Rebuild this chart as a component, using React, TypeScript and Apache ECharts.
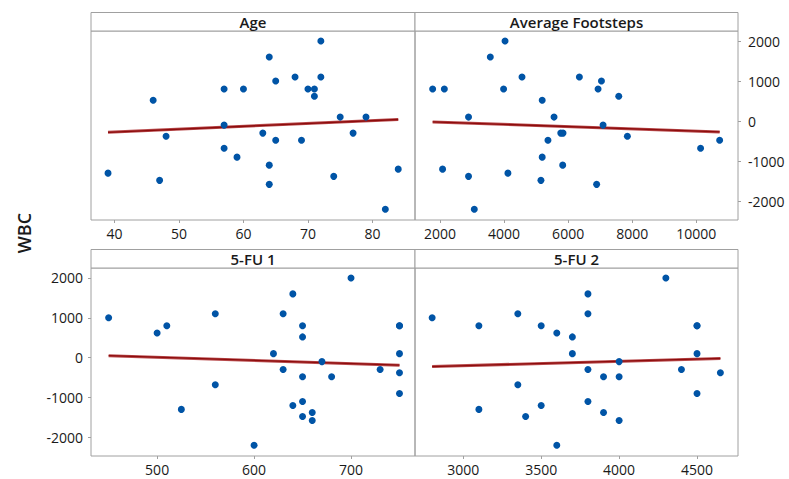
import React, { useEffect, useRef } from "react";
import * as echarts from "echarts";

const wbc = [2000, 1600, 1000, 1100, 1100, 800, 800, 800, 800, 620, 520, 100, 100, -100, -300, -300, -380, -480, -480, -680, -900, -1100, -1200, -1300, -1380, -1480, -1580, -2200];
const age = [72, 64, 65, 68, 72, 57, 60, 70, 71, 71, 46, 75, 79, 57, 63, 77, 48, 65, 69, 57, 59, 64, 84, 39, 74, 47, 64, 82];
const footsteps = [4030, 3570, 7040, 4560, 6350, 1770, 2135, 3985, 6935, 7580, 5190, 2890, 5560, 7090, 5770, 5840, 7850, 5370, 10730, 10135, 5190, 5830, 2080, 4120, 2890, 5150, 6890, 3070];
const fu1 = [700, 640, 450, 560, 630, 510, 650, 750, 750, 500, 650, 620, 750, 670, 630, 730, 750, 650, 680, 560, 750, 650, 640, 525, 660, 650, 660, 600];
const fu2 = [4300, 3800, 2800, 3350, 3800, 3100, 3500, 4500, 4500, 3600, 3700, 3700, 4500, 4000, 3800, 4400, 4650, 3900, 4000, 3350, 4500, 3800, 3500, 3100, 3900, 3400, 4000, 3600];

// fitted line end points
const fitAge = [[39, -280], [84, 40]];
const fitFootsteps = [[1770, -20], [10730, -270]];
const fitFu1 = [[450, 50], [750, -190]];
const fitFu2 = [[2800, -225], [4650, -20]];

const panelTitles = ["Age", "Average Footsteps", "5-FU 1", "5-FU 2"];
const ageTicks = [40, 50, 60, 70, 80];
const footstepTicks = [2000, 4000, 6000, 8000, 10000];
const fu1Ticks = [500, 600, 700];
const fu2Ticks = [3000, 3500, 4000, 4500];
const wbcTicks = [-2000, -1000, 0, 1000, 2000];
const yLabel = "WBC";

const FONT = "'Open Sans', 'Noto Sans', sans-serif";
const GRAY = "#a0a0a0";
const TEXT = "#1a1a1a";

export default function App() {
  const ref = useRef<HTMLDivElement>(null);
  useEffect(() => {
    if (!ref.current) return;
    const chart = echarts.init(ref.current, null, { renderer: "svg" });
    const grids = [
      { left: 91, top: 31, width: 324, height: 189 },
      { left: 415, top: 31, width: 323, height: 189 },
      { left: 91, top: 268, width: 324, height: 188 },
      { left: 415, top: 268, width: 323, height: 188 },
    ];
    const xRanges = [
      [36.36, 86.6],
      [1219, 11303],
      [431.8, 766],
      [2690, 4763],
    ];
    const xTicks = [ageTicks, footstepTicks, fu1Ticks, fu2Ticks];
    const xs = [age, footsteps, fu1, fu2];
    const fits = [fitAge, fitFootsteps, fitFu1, fitFu2];
    const yShow = [false, true, true, false];
    const yPos = ["left", "right", "left", "right"];

    const labelStyle = { color: TEXT, fontSize: 14, fontFamily: FONT, formatter: (v: number) => String(v) };

    const option: any = {
      animation: false,
      backgroundColor: "#ffffff",
      grid: grids.map((g) => ({ ...g, show: true, borderColor: GRAY, borderWidth: 1, backgroundColor: "transparent", containLabel: false })),
      xAxis: grids.map((_, i) => ({
        type: "value",
        gridIndex: i,
        min: xRanges[i][0],
        max: xRanges[i][1],
        position: "bottom",
        axisLine: { show: false, onZero: false },
        splitLine: { show: false },
        axisTick: { show: true, length: 3, lineStyle: { color: GRAY }, customValues: xTicks[i] },
        axisLabel: { ...labelStyle, margin: 6, customValues: xTicks[i] },
      })),
      yAxis: grids.map((_, i) => ({
        type: "value",
        gridIndex: i,
        min: -2470,
        max: 2250,
        position: yPos[i],
        axisLine: { show: false, onZero: false },
        splitLine: { show: false },
        axisTick: { show: yShow[i], length: 3, lineStyle: { color: GRAY }, customValues: wbcTicks },
        axisLabel: { ...labelStyle, show: yShow[i], margin: i === 1 ? 10 : 8, customValues: wbcTicks },
      })),
      series: [
        ...xs.map((arr, i) => ({
          type: "scatter",
          xAxisIndex: i,
          yAxisIndex: i,
          symbolSize: 7,
          itemStyle: { color: "#0054a6", opacity: 1 },
          data: arr.map((v, k) => [v, wbc[k]]),
          z: 3,
        })),
        ...fits.map((f, i) => ({
          type: "line",
          xAxisIndex: i,
          yAxisIndex: i,
          symbol: "none",
          lineStyle: { color: "#b84a4c", width: 3 },
          data: f,
          z: 2,
        })),
        ...fits.map((f, i) => ({
          type: "line",
          xAxisIndex: i,
          yAxisIndex: i,
          symbol: "none",
          lineStyle: { color: "#8c0c0c", width: 1.3 },
          data: f,
          z: 2,
        })),
      ],
      graphic: [
        ...grids.map((g) => ({
          type: "rect",
          shape: { x: g.left, y: g.top - 18.5, width: g.width, height: 18.5 },
          style: { fill: "#ffffff", stroke: GRAY, lineWidth: 1 },
        })),
        ...grids.map((g, i) => ({
          type: "text",
          x: g.left + g.width / 2,
          y: g.top - 9,
          style: {
            text: panelTitles[i],
            fontSize: 15,
            fontWeight: 600,
            fontFamily: FONT,
            fill: TEXT,
            textAlign: "center",
            textVerticalAlign: "middle",
          },
        })),
        {
          type: "text",
          x: 24,
          y: 233,
          rotation: Math.PI / 2,
          style: {
            text: yLabel,
            fontSize: 18,
            fontWeight: 600,
            fontFamily: FONT,
            fill: TEXT,
            textAlign: "center",
            textVerticalAlign: "middle",
          },
        },
      ],
    };
    chart.setOption(option);
    return () => chart.dispose();
  }, []);
  return <div ref={ref} style={{ position: "fixed", left: 0, top: 0, width: 789, height: 479 }} />;
}
